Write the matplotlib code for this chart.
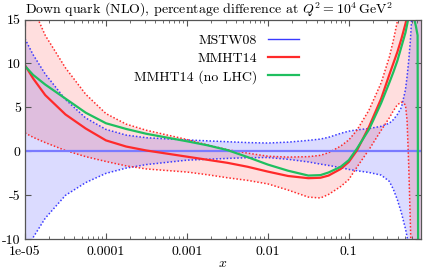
import matplotlib
matplotlib.use("Agg")
import matplotlib.pyplot as plt
import numpy as np
from matplotlib.lines import Line2D

# log10(x) grid the curves were read on
logx = [-5, -4.9, -4.75, -4.5, -4.25, -4, -3.75, -3.5, -3, -2.75, -2.5, -2.25, -2, -1.75,
        -1.5, -1.35, -1.25, -1.1, -1, -0.9, -0.75, -0.6, -0.5, -0.45, -0.4,
        -0.35, -0.3, -0.28, -0.26, -0.24, -0.22, -0.19, -0.17, -0.15, -0.14, -0.11]

# MSTW08 band (central is 0 by definition)
mstw_up = [12.8, 11.0, 8.8, 5.9, 3.8, 2.5, 1.85, 1.55, 1.3, 1.2, 1.1, 1.0, 0.95, 1.05,
           1.25, 1.4, 1.6, 2.05, 2.3, 2.45, 2.6, 2.85, 3.2, 3.6, 4.2,
           5.0, 7.0, 8.5, 10.3, 12.5, 15.5, 20, 24, 28, 30, 40]
mstw_dn = [-12.0, -9.8, -7.6, -5.0, -3.55, -2.5, -1.9, -1.5, -1.0, -0.9, -0.8, -0.72, -0.7, -0.9,
           -1.2, -1.45, -1.6, -1.85, -2.05, -2.2, -2.4, -2.7, -3.4, -4.3, -5.5,
           -7.0, -8.8, -9.7, -11, -13, -16, -20, -24, -28, -30, -40]

# MMHT14
mmht = [9.8, 8.3, 6.4, 4.2, 2.6, 1.25, 0.55, 0.1, -0.6, -0.95, -1.3, -1.75, -2.3, -2.8,
        -3.05, -3.0, -2.75, -2.0, -1.2, 0.1, 2.8, 6.0, 8.7, 10.0, 11.3,
        12.8, 14.5, 15.3, 16.2, 17.0, 18.0, 19.5, 20.5, 21.5, 22, 23.5]
mmht_up = [18.5, 16.3, 13.2, 9.5, 6.5, 4.3, 3.1, 2.4, 1.35, 0.75, 0.2, -0.2, -0.55, -0.65,
           -0.6, -0.45, -0.15, 0.6, 1.3, 2.4, 4.7, 7.8, 10.7, 12.6, 14.8,
           17, 20, 22, 24, 26, 28, 30, 32, 34, 36, 40]
mmht_dn = [2.1, 1.6, 1.0, 0.1, -0.6, -1.15, -1.65, -2.0, -2.35, -2.65, -3.0, -3.3, -3.7, -4.4,
           -5.2, -5.3, -4.9, -4.0, -3.2, -1.8, 0.2, 2.4, 3.8, 4.6, 5.3,
           5.6, 5.3, 3.5, -1.5, -8, -15, -20, -24, -28, -30, -40]

# MMHT14 fit without LHC data
nolhc = [9.7, 8.7, 7.6, 6.0, 4.4, 3.2, 2.55, 2.0, 1.15, 0.7, 0.15, -0.65, -1.5, -2.2,
         -2.75, -2.7, -2.4, -1.75, -1.0, 0.3, 2.5, 5.5, 7.8, 9.0, 10.3,
         11.9, 13.5, 14.4, 15.3, 15.9, 16.2, 15.0, 14.2, 13.2, -25, -30]

x = 10 ** np.array(logx)

plt.rcParams['font.family'] = 'cmr10'
plt.rcParams['mathtext.fontset'] = 'cm'
plt.rcParams['axes.unicode_minus'] = False

blue = '#3a3aff'
red = '#ff2a2a'
green = '#1fbf5f'

fig = plt.figure(figsize=(4.23, 2.73), dpi=100)
ax = fig.add_axes([25/423, 1 - 239.3/273, 396/423, 219.8/273])

# bands
ax.fill_between(x, mstw_dn, mstw_up, color='#0000ff', alpha=0.14, lw=0)
ax.fill_between(x, mmht_dn, mmht_up, color='#ff0000', alpha=0.13, lw=0)

dots = (0, (1, 1.3))
ax.plot(x, mstw_up, color=blue, lw=1.1, ls=dots)
ax.plot(x, mstw_dn, color=blue, lw=1.1, ls=dots)
ax.plot(x, mmht_up, color=red, lw=1.1, ls=dots)
ax.plot(x, mmht_dn, color=red, lw=1.1, ls=dots)

# central lines
ax.plot(x, np.zeros_like(x), color='#7a7aff', lw=1.6)
ax.plot(x, mmht, color=red, lw=1.6)
ax.plot(x, nolhc, color=green, lw=1.6)

ax.set_xscale('log')
ax.set_xlim(1e-5, 0.78)
ax.set_ylim(-10, 15)

ax.set_xticks([1e-5, 1e-4, 1e-3, 1e-2, 1e-1])
ax.set_xticklabels(['1e-05', '0.0001', '0.001', '0.01', '0.1'])
ax.set_yticks([-10, -5, 0, 5, 10, 15])
ax.set_yticklabels(['-10', '-5', '0', '5', '10', '15'])
ax.tick_params(which='both', direction='in', top=True, right=True,
               labelsize=10, color='#555555')
ax.tick_params(axis='x', pad=5)
ax.tick_params(axis='y', pad=3)
ax.tick_params(which='major', length=4)
ax.tick_params(which='minor', length=2)
ax.minorticks_on()
ax.yaxis.set_minor_locator(matplotlib.ticker.NullLocator())
for s in ax.spines.values():
    s.set_color('#555555')
    s.set_linewidth(0.9)

ax.set_xlabel('$x$', fontsize=10, labelpad=0)
ax.set_title(r'Down quark (NLO), percentage difference at $Q^2 = 10^4\,\mathrm{GeV}^2$',
             fontsize=10, loc='left', pad=4, x=0.0)

handles = [Line2D([], [], color=blue, lw=1.0),
           Line2D([], [], color=red, lw=1.6),
           Line2D([], [], color=green, lw=1.6)]
ax.legend(handles, ['MSTW08', 'MMHT14', 'MMHT14 (no LHC)'], markerfirst=False,
          frameon=False, fontsize=10, handlelength=2.2, labelspacing=0.38,
          loc='upper right', bbox_to_anchor=(0.705, 0.96), borderaxespad=0)

fig.savefig('out.png', dpi=100)
